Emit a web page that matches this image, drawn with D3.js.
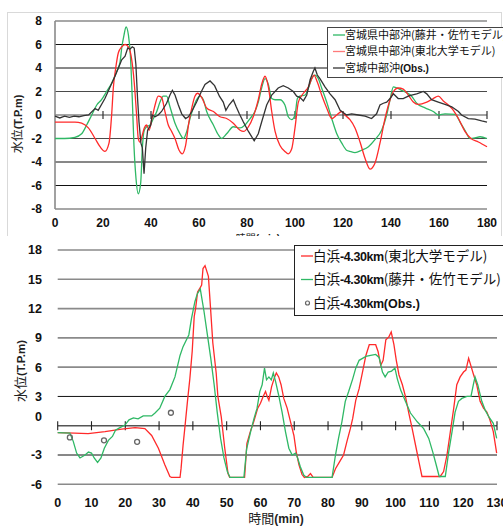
<!DOCTYPE html>
<html><head><meta charset="utf-8">
<script src="https://cdn.jsdelivr.net/npm/d3@7"></script>
<style>body{margin:0;background:#fff}svg{display:block}</style>
</head><body>
<svg id="c" width="503" height="527"></svg>
<script>
// ---------- TOP CHART DATA (宮城県中部沖) ----------
const topXTicks = [0,20,40,60,80,100,120,140,160,180];
const topYTicks = [-8,-6,-4,-2,0,2,4,6,8];
const topObsT = [0,2,4,6,8,10,12,14,16.7,18,20.8,23,25,26.4,27.8,29.2,30.3,31.2,32.2,33,33.7,34.4,35,35.8,36.4,37.1,37.8,38.6,39.9,40.5,41.7,43,44.4,46.5,47.9,48.9,50,51.4,52.8,54.4,55.6,57,59,61,62.5,64.6,66.5,68.5,70.1,71.2,72.5,74.3,75.5,76.8,78.5,80.6,83,84.7,86.1,88.2,90.3,93,95.1,97.2,99.3,100.7,102,103.5,104.9,106.3,107.6,108.3,109.3,110.4,112.5,114.6,116.7,118.8,121.5,123.6,126.4,129.2,131.9,134,135.4,136.8,138.2,139.6,141,143,145.1,147.2,148.6,150.7,153.5,154.9,156.9,159.7,162.5,165.3,168.1,169.4,172.2,175,177.8,180];
const topObsV = [-0.1,-0.25,-0.1,-0.2,-0.1,-0.15,-0.05,0,0.55,0.4,1.4,2.4,3.3,4.0,4.7,5.0,5.7,5.6,5.8,5.7,4.3,1.4,-0.6,-2.4,-2.8,-5.0,-2.8,-1.3,-0.85,0,-0.15,0,0.3,1.0,1.7,2.1,1.7,0.85,0.1,-0.3,-0.15,0.3,1.1,2.0,2.6,2.9,2.5,1.6,1.1,0.4,0.85,1.3,0.7,0.1,-0.6,-1.4,-2.2,-1.6,-0.6,0.85,1.7,2.3,2.5,2.3,2.0,1.6,1.5,1.2,1.7,3.0,3.7,4.0,3.4,3.1,2.4,1.8,1.3,0.4,0,0.1,0,-0.1,-0.3,0.1,0.85,1.0,1.1,1.4,1.8,1.4,1.4,1.6,1.7,1.8,2.0,1.8,1.3,1.1,0.9,0.7,0.3,0,-0.3,-0.35,-0.5,-0.6];
const topFujiiT = [0,4,8.3,11.1,13.2,15.3,17.4,19.4,21.5,23.6,25.7,27.1,27.8,28.75,29.6,30.6,31.4,32.2,32.9,33.75,34.7,35.7,36.4,37.2,38.2,39.6,41,42.4,43.75,45.1,46.5,47.9,50,52.1,53.5,54.9,56.25,57.6,59,60.4,61.8,63.2,66,68.1,69.4,71.5,74.3,77.1,79.2,81.3,83.3,84.7,86.1,87.5,88.9,90.3,91.7,93.75,95.8,97.2,98.6,100,101,102,104.2,105.6,107,108.3,109.7,111.1,113.2,115.3,117.4,119.5,121.5,122.9,125,127.8,130.6,133.3,136.1,138.2,139.6,141,142.4,144.4,146.5,148.6,150.7,154.2,157.6,159.7,162.5,166.7,168.75,170.8,172.9,175,177.1,180];
const topFujiiV = [-2.0,-2.0,-1.9,-1.6,-0.85,0,0.85,1.3,2.0,2.7,3.7,4.5,5.7,6.8,7.5,6.8,5.1,1.4,-2.6,-5.4,-6.7,-5.8,-2.8,-1.3,-1.0,-0.85,-0.3,0.3,1.1,1.6,1.6,0.7,-0.7,-1.6,-2.0,-1.4,-0.3,0.6,1.3,1.6,1.3,0.3,-0.85,-1.7,-2.0,-1.6,-1.0,-1.1,-0.85,-0.3,0.3,1.1,2.3,3.1,2.6,1.4,1.3,1.3,0.85,-0.15,-0.4,0,1.4,1.6,1.7,2.3,3.1,3.4,3.1,2.3,1.1,-0.3,-1.6,-2.4,-3.0,-3.1,-3.2,-3.0,-2.7,-2.1,-1.3,0,1.3,2.4,2.3,2.1,1.9,1.6,1.0,0.6,0.3,0,0.1,0.05,-0.6,-1.3,-2.0,-1.95,-1.85,-2.0];
const topTohokuT = [0,8.3,11.1,13.9,16.7,18.75,20.8,22.5,23.6,24.3,25.3,26.4,27.8,29.2,30.6,31.9,33,34,34.7,35.4,36.4,37.2,38.2,39.2,40.3,41.7,43,44.4,45.8,47.2,48.6,50,51.7,53,54.4,55.8,57,58.3,59.4,61.1,63.2,66,68.75,71.5,74.3,77.1,78.5,80.6,82.6,84.7,86.1,87.5,88.9,90.3,91.7,93.75,95.8,97.2,98.6,100,101.4,103.5,105.6,107,107.9,109.3,111.1,113.2,115.3,117.4,119.5,120.8,122.9,125,127.1,129.2,131.25,133.3,135.4,137.5,139.6,141,143,145.1,147.2,149.3,151.4,154.9,157.6,159.7,161.8,163.9,166,168.1,170.8,173.3,176.4,180];
const topTohokuV = [-0.6,-0.6,-0.7,-1.1,-2.0,-2.7,-3.1,-2.4,0,2.3,4.0,5.3,5.8,6.0,5.8,4.8,2.8,0,-2.0,-2.3,-1.7,-1.1,-0.85,-1.3,-0.4,0.85,1.6,1.5,0.3,-0.85,-1.4,-2.0,-3.0,-3.3,-2.6,-0.6,0.6,1.6,1.85,1.5,0.6,0.3,-0.15,-0.3,-0.7,-1.3,-1.4,-1.0,-0.15,1.3,2.6,3.3,2.4,0.3,-1.4,-2.6,-3.1,-3.3,-2.9,-1.1,1.1,1.85,2.4,3.1,3.4,2.8,1.7,0.6,-0.3,0,0.3,0,-0.4,-1.1,-2.3,-3.7,-4.6,-4.1,-2.4,-0.3,1.3,2.0,2.3,2.2,1.7,1.1,0.9,1.1,1.4,1.6,1.2,0.85,0.4,-0.3,-1.4,-2.0,-2.3,-2.7];
const topLegend = ["宮城県中部沖(藤井・佐竹モデル)","宮城県中部沖(東北大学モデル)","宮城中部沖"];

// ---------- BOTTOM CHART DATA (白浜-4.30km) ----------
const botXTicks = [0,10,20,30,40,50,60,70,80,90,100,110,120,130];
const botYTicks = [-6,-3,0,3,6,9,12,15,18];
const botTohokuT = [0,5,9,14,18.9,22.9,25.8,27.8,29.8,31.7,33.2,33.7,36.2,36.5,37.1,37.6,38.4,39.1,39.8,40.4,40.8,41.4,42.1,42.6,43,43.6,44.6,45.2,45.9,46.9,47.4,48.4,49.4,50.4,50.9,55.3,56,57,58,59.2,60,60.8,61.5,62,62.5,63.3,64.2,64.7,65.4,66.1,66.9,67.9,68.9,69.9,70.6,71.4,72.3,73,74,74.8,75.6,81.2,82.2,83.4,84.6,85.6,86.6,87.3,88.2,89.2,90.2,91.2,92.2,93.1,94.1,94.8,95.6,96.3,97.1,98,98.7,99.5,100.2,101,102,102.9,103.9,104.9,105.9,106.9,107.8,113.2,114.2,115.2,116.2,117.2,118.1,119.1,120.1,120.8,121.6,122.4,123,124,125,126,127,127.9,128.9,129.9];
const botTohokuV = [-0.7,-0.75,-0.8,-0.6,-0.35,-0.2,-0.3,-1.0,-2.3,-4.0,-5.2,-5.3,-5.3,-4.4,-2.0,-0.3,2.5,4.8,7.6,11.2,12.0,13.7,14.1,14.4,16.1,16.4,15.3,12.2,8.5,5.4,3.0,0.9,-2.2,-4.9,-5.3,-5.3,-1.8,-0.6,0.4,1.8,2.3,3.0,3.5,3.0,2.6,4.0,5.0,5.4,5.0,4.2,2.8,1.8,0.4,-1.0,-2.7,-4.0,-5.0,-5.3,-5.2,-4.9,-5.3,-5.3,-4.4,-3.7,-3.0,-1.6,-0.3,0.75,2.6,3.8,5.5,7.2,8.3,8.3,8.3,7.6,6.2,6.7,8.8,9.1,9.6,8.3,6.7,5.2,4.2,3.0,1.3,-0.3,-2.0,-3.7,-5.2,-5.2,-4.7,-3.0,-0.6,1.8,4.2,5.0,5.5,5.7,6.9,6.0,5.3,4.2,2.5,1.8,1.4,0.6,-0.6,-2.8];
const botFujiiT = [0,3.6,4.6,5.6,6.6,8.1,9.1,10,10.8,11.8,12.8,13.8,15,16.2,17.1,18.4,19.9,21.1,22.4,23.8,25.3,26.8,27.8,28.8,30.2,31.7,33.2,34.7,36.2,37.1,38.1,38.8,39.6,40.6,41.3,42.2,43.3,44.3,45.3,46.3,47.2,48.2,49.2,50.2,51,55.1,55.9,57.1,58.1,59,59.8,60.5,61.2,61.8,62.5,63.2,63.8,64.5,65.4,66.4,67.4,68.4,69.4,70.4,71,71.8,72.8,73.6,81.2,82.2,83.1,84.1,85.1,86.1,87.3,88.2,89.2,90.2,91.2,92.6,94.1,95.1,96.1,96.9,97.8,98.8,99.8,100.5,101.5,102.9,104.4,106.4,108.3,109.8,111,112,112.9,114.7,115.7,116.7,117.6,118.6,119.6,121.1,122.3,123,123.5,124.3,125.5,126.5,127.6,128.9,129.9];
const botFujiiV = [-0.7,-0.75,-1.6,-2.8,-3.3,-3.0,-2.7,-2.8,-3.3,-3.75,-3.3,-2.3,-1.5,-1.1,-0.45,-0.2,0.07,0.6,0.8,0.7,1.0,1.0,1.0,1.3,1.8,3.0,3.7,5.0,7.2,8.1,8.8,9.3,11.0,12.7,13.5,14.0,11.7,9.3,6.9,4.2,1.4,-1.3,-3.3,-4.7,-5.3,-5.3,-2.4,-0.6,0.75,1.8,3.5,4.2,5.9,4.7,5.0,4.7,5.4,4.5,3.1,1.4,-0.6,-2.3,-3.0,-2.8,-3.3,-4.2,-5.05,-5.3,-5.3,-3.0,-1.3,0.4,2.5,3.5,4.8,5.9,6.7,6.9,7.1,7.2,7.3,7.0,5.5,5.0,5.5,5.6,5.9,4.8,3.65,2.5,1.3,0.4,-0.3,-1.3,-2.7,-4.0,-5.2,-5.2,-2.7,-0.6,1.4,2.5,2.8,3.0,3.0,4.2,5.0,4.2,2.5,1.6,0.9,0.25,-1.3];
const botObsT = [3.6,13.7,23.5,33.5];
const botObsV = [-1.2,-1.5,-1.65,1.33];

const RED = "#ff2a2a", GREEN = "#2fb865", BLACK = "#333";
const JP = "'Noto Sans CJK JP', 'Noto Sans', sans-serif";
const NUM = "'Liberation Sans', Arial, sans-serif";

const svg = d3.select("#c");
const zip = (t, v) => t.map((d, i) => [d, v[i]]);

// ================= TOP CHART =================
const xT = d3.scaleLinear().domain([0,180]).range([55,487]);
const yT = d3.scaleLinear().domain([-8,8]).range([209,21]);
const gT = svg.append("g");
gT.append("rect").attr("x",7.5).attr("y",12.5).attr("width",494).attr("height",240)
  .attr("fill","#fff").attr("stroke","#d9d9d9");
const topGridStyle = v => (v===8||v===-8) ? ["#8a8a8a",1.6] : (Math.abs(v)<=2 ? ["#4a4a4a",1.2] : ["#111",1]);
gT.selectAll("line.gy").data(topYTicks).join("line")
  .attr("x1",xT(0)).attr("x2",xT(180)).attr("y1",d=>yT(d)).attr("y2",d=>yT(d))
  .attr("stroke",d=>topGridStyle(d)[0]).attr("stroke-width",d=>topGridStyle(d)[1]);
gT.append("line").attr("x1",xT(0)).attr("x2",xT(0)).attr("y1",yT(8)).attr("y2",yT(-8))
  .attr("stroke","#8a8a8a").attr("stroke-width",1.6);
gT.selectAll("line.tk").data(topXTicks.slice(1)).join("line")
  .attr("x1",d=>xT(d)).attr("x2",d=>xT(d)).attr("y1",yT(0)-4).attr("y2",yT(0)+4)
  .attr("stroke","#333").attr("stroke-width",1.2);
gT.selectAll("text.yl").data(topYTicks).join("text")
  .attr("x",42).attr("y",d=>yT(d)).attr("dy","0.35em").attr("text-anchor","end")
  .attr("font-family",NUM).attr("font-weight","bold").attr("font-size",12).attr("fill","#111").text(d=>d);
gT.selectAll("text.xl").data(topXTicks).join("text")
  .attr("x",d=>xT(d)).attr("y",227).attr("text-anchor","middle")
  .attr("font-family",NUM).attr("font-weight","bold").attr("font-size",12).attr("fill","#111").text(d=>d);
const ylT = gT.append("text").attr("transform","translate(22,124) rotate(-90)").attr("text-anchor","middle")
  .attr("font-size",12).attr("fill","#222");
ylT.append("tspan").attr("font-family",JP).text("水位");
ylT.append("tspan").attr("font-family",NUM).attr("font-weight","bold").attr("font-size",11).text("(T.P.m)");
const xtT = gT.append("text").attr("x",258).attr("y",242).attr("text-anchor","middle").attr("font-size",10).attr("fill","#222");
xtT.append("tspan").attr("font-family",JP).text("時間");
xtT.append("tspan").attr("font-family",NUM).attr("font-weight","bold").text("(min)");

const lineT = d3.line().x(d=>xT(d[0])).y(d=>yT(d[1])).curve(d3.curveMonotoneX);
const lineTo = d3.line().x(d=>xT(d[0])).y(d=>yT(d[1]));
gT.append("path").attr("d",lineT(zip(topFujiiT,topFujiiV))).attr("fill","none").attr("stroke",GREEN).attr("stroke-width",1.3);
gT.append("path").attr("d",lineT(zip(topTohokuT,topTohokuV))).attr("fill","none").attr("stroke",RED).attr("stroke-width",1.3);
gT.append("path").attr("d",lineTo(zip(topObsT,topObsV))).attr("fill","none").attr("stroke",BLACK).attr("stroke-width",1.3);

const lgT = gT.append("g");
lgT.append("rect").attr("x",327.5).attr("y",27.5).attr("width",180).attr("height",50)
  .attr("fill","#fff").attr("stroke","#444");
const topLegCol = [GREEN,"#ff7a7a",BLACK];
topLegend.forEach((s,i)=>{
  const yy = 35 + i*16.5;
  lgT.append("line").attr("x1",333).attr("x2",345).attr("y1",yy).attr("y2",yy).attr("stroke",topLegCol[i]).attr("stroke-width",1.3);
  const t = lgT.append("text").attr("x",345).attr("y",yy).attr("dy","0.36em").attr("font-size",11).attr("fill","#111").attr("font-family",JP);
  t.append("tspan").text(s);
  if (i===2) t.append("tspan").attr("font-family",NUM).attr("font-weight","bold").attr("font-size",10).text("(Obs.)");
});

// ================= BOTTOM CHART =================
const gB = svg.append("g");
gB.append("rect").attr("x",0).attr("y",236).attr("width",503).attr("height",291).attr("fill","#fff");
const xB = d3.scaleLinear().domain([0,130]).range([57.7,497]);
const yB = d3.scaleLinear().domain([-6,18]).range([484.3,250]);
const botGridStyle = v => (v===3||v===-3) ? ["#111",1] : (v===0 ? ["#555",1.4] : ["#8a8a8a",1.6]);
gB.selectAll("line.gy").data(botYTicks).join("line")
  .attr("x1",xB(0)).attr("x2",xB(130)).attr("y1",d=>yB(d)).attr("y2",d=>yB(d))
  .attr("stroke",d=>botGridStyle(d)[0]).attr("stroke-width",d=>botGridStyle(d)[1]);
gB.selectAll("line.tk").data(botXTicks).join("line")
  .attr("x1",d=>xB(d)).attr("x2",d=>xB(d)).attr("y1",yB(0)-4.5).attr("y2",yB(0)+4.5)
  .attr("stroke","#222").attr("stroke-width",1.1);
gB.selectAll("text.yl").data(botYTicks).join("text")
  .attr("x",42).attr("y",d=>yB(d) - (d===0?9:0)).attr("dy","0.35em").attr("text-anchor","end")
  .attr("font-family",NUM).attr("font-weight","bold").attr("font-size",12.5).attr("fill","#111").text(d=>d);
gB.selectAll("text.xl").data(botXTicks).join("text")
  .attr("x",d=>xB(d)).attr("y",507).attr("text-anchor","middle")
  .attr("font-family",NUM).attr("font-weight","bold").attr("font-size",12.5).attr("fill","#111").text(d=>d);
const ylB = gB.append("text").attr("transform","translate(25,371) rotate(-90)").attr("text-anchor","middle")
  .attr("font-size",13).attr("fill","#222");
ylB.append("tspan").attr("font-family",JP).text("水位");
ylB.append("tspan").attr("font-family",NUM).attr("font-weight","bold").attr("font-size",11.5).text("(T.P.m)");
const xtB = gB.append("text").attr("x",276).attr("y",523).attr("text-anchor","middle").attr("font-size",13).attr("fill","#222");
xtB.append("tspan").attr("font-family",JP).text("時間");
xtB.append("tspan").attr("font-family",NUM).attr("font-weight","bold").attr("font-size",12).text("(min)");

const lineB = d3.line().x(d=>xB(d[0])).y(d=>yB(d[1]));
gB.append("path").attr("d",lineB(zip(botTohokuT,botTohokuV))).attr("fill","none").attr("stroke",RED).attr("stroke-width",1.3);
gB.append("path").attr("d",lineB(zip(botFujiiT,botFujiiV))).attr("fill","none").attr("stroke",GREEN).attr("stroke-width",1.3);
gB.selectAll("circle.obs").data(zip(botObsT,botObsV)).join("circle")
  .attr("cx",d=>xB(d[0])).attr("cy",d=>yB(d[1])).attr("r",2.5)
  .attr("fill","none").attr("stroke","#666").attr("stroke-width",1.3);

const lgB = gB.append("g");
lgB.append("rect").attr("x",294.5).attr("y",245.5).attr("width",215).attr("height",70)
  .attr("fill","#fff").attr("stroke","#222");
const botLegSuffix = ["(東北大学モデル)","(藤井・佐竹モデル)","(Obs.)"];
botLegSuffix.forEach((s,i)=>{
  const yy = 256 + i*23.5;
  if (i<2) lgB.append("line").attr("x1",301).attr("x2",313).attr("y1",yy).attr("y2",yy).attr("stroke",i===0?RED:GREEN).attr("stroke-width",1.3);
  else lgB.append("circle").attr("cx",307.5).attr("cy",yy).attr("r",2).attr("fill","none").attr("stroke","#666").attr("stroke-width",1.2);
  const t = lgB.append("text").attr("x",313).attr("y",yy).attr("dy","0.36em").attr("font-size",13.5).attr("fill","#111");
  t.append("tspan").attr("font-family",JP).text("白浜");
  t.append("tspan").attr("font-family",NUM).attr("font-weight","bold").attr("font-size",12.5).attr("letter-spacing",-0.4).text("-4.30km");
  if (i<2) t.append("tspan").attr("font-family",JP).text(s);
  else t.append("tspan").attr("font-family",NUM).attr("font-weight","bold").attr("font-size",12.5).text(s);
});
</script>
</body></html>
